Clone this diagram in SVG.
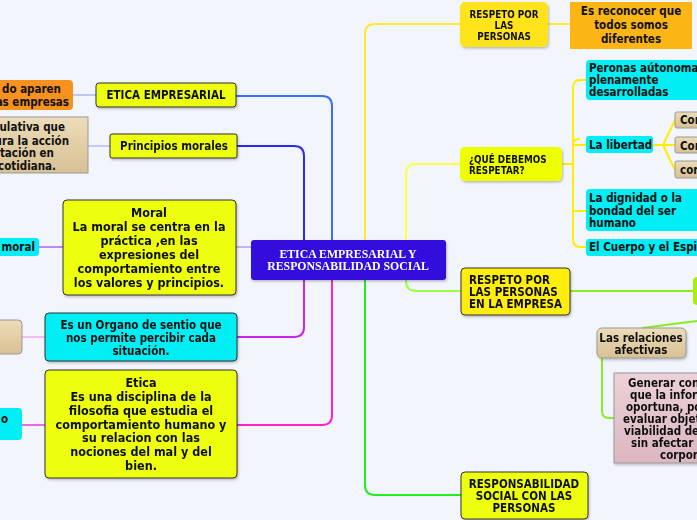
<svg xmlns="http://www.w3.org/2000/svg" width="697" height="520" viewBox="0 0 697 520">
<defs>
<style>
.t{font-family:"DejaVu Sans Condensed","DejaVu Sans",Verdana,sans-serif;font-stretch:condensed;font-weight:bold;fill:#111;font-size:11.5px}
.c{text-anchor:middle}
.e{text-anchor:end}
.s{font-size:9.8px}
.L{font-size:12.5px}
.b{stroke:#333;stroke-width:1}
.cy{fill:#00eef4}
.yl{fill:#eeff11}
.tan{fill:url(#tanG);stroke:#999;stroke-width:1}
.cn{fill:none;stroke-linecap:round}
</style>
<linearGradient id="tanG" x1="0" y1="0" x2="0" y2="1"><stop offset="0" stop-color="#ecdcb8"/><stop offset="1" stop-color="#d8c094"/></linearGradient>
<linearGradient id="pinkG" x1="0" y1="0" x2="0" y2="1"><stop offset="0" stop-color="#ecd2d8"/><stop offset="1" stop-color="#dcb6c0"/></linearGradient>
<filter id="sh" x="-10%" y="-10%" width="130%" height="140%"><feDropShadow dx="1" dy="1.5" stdDeviation="1" flood-color="#000" flood-opacity="0.25"/></filter>
</defs>
<rect width="697" height="520" fill="#f3f5fc"/>
<g id="connectors">
<line x1="73" y1="95" x2="96" y2="95" stroke="#a8b8f8" stroke-width="1.5"/>
<line x1="88" y1="146" x2="110" y2="146" stroke="#b8b8ff" stroke-width="1.5"/>
<line x1="39" y1="247" x2="63" y2="247" stroke="#bb88ff" stroke-width="2"/>
<line x1="22" y1="337" x2="45" y2="337" stroke="#f0a8f0" stroke-width="1.5"/>
<line x1="22" y1="425" x2="45" y2="425" stroke="#ee66ee" stroke-width="2"/>
<path class="cn" d="M236 96 H322 Q332 96 332 106 V240" stroke="#3b6bff" stroke-width="2"/>
<path class="cn" d="M237 146 H294 Q304 146 304 156 V240" stroke="#2a2aee" stroke-width="2"/>
<line x1="236" y1="247" x2="251" y2="247" stroke="#c8b0ff" stroke-width="2"/>
<path class="cn" d="M304 280 V327 Q304 337 294 337 H237" stroke="#cc22ee" stroke-width="2"/>
<path class="cn" d="M332 280 V415 Q332 425 322 425 H237" stroke="#ff22cc" stroke-width="2"/>
<path class="cn" d="M365 240 V34 Q365 24 375 24 H460" stroke="#ffe833" stroke-width="2"/>
<path class="cn" d="M365 280 V485 Q365 495 375 495 H461" stroke="#22ee22" stroke-width="2"/>
<path class="cn" d="M406 240 V174 Q406 164 416 164 H460" stroke="#ffff44" stroke-width="2"/>
<path class="cn" d="M406 280 V281 Q406 291 416 291 H460" stroke="#99ff44" stroke-width="2"/>
<line x1="548" y1="24" x2="570" y2="24" stroke="#ffe833" stroke-width="2"/>
<path class="cn" d="M562 164 H573 M586 80 H580 Q573 80 573 88 V239 Q573 247 580 247 H586 M573 145 Q573 139 579 139 M573 145 H586 M573 211 H586" stroke="#ffee00" stroke-width="2"/>
<path class="cn" d="M653 145 H663 L675 120 M663 145 H675 M663 145 L675 170" stroke="#ffee00" stroke-width="2"/>
<line x1="570" y1="291" x2="693" y2="291" stroke="#88ee22" stroke-width="2"/>
<line x1="642" y1="328" x2="697" y2="321" stroke="#88ee22" stroke-width="2"/>
<path class="cn" d="M602 358 V411 Q602 418 609 418 H614" stroke="#88ee22" stroke-width="2"/>
</g>
<g id="center" filter="url(#sh)">
<rect x="251" y="240" width="195" height="40" rx="3" fill="#3010dc"/>
<text x="348" y="258" font-family="Liberation Serif,serif" font-weight="bold" font-size="11.8" fill="#fff" text-anchor="middle">ETICA EMPRESARIAL Y</text>
<text x="348" y="270" font-family="Liberation Serif,serif" font-weight="bold" font-size="11.8" fill="#fff" text-anchor="middle">RESPONSABILIDAD SOCIAL</text>
</g>
<g id="n-orange"><rect x="-6" y="80" width="79" height="30" rx="4" fill="#f7921e"/>
<text class="t e" x="61" y="93">do aparen</text><text class="t e" x="69" y="106">as empresas</text></g>
<g id="n-etica-emp" filter="url(#sh)"><rect class="yl b" x="96" y="83" width="140" height="24" rx="3"/>
<text class="t c" x="166" y="99">ETICA EMPRESARIAL</text></g>
<g id="n-tan1"><rect class="tan" x="-6" y="117" width="94" height="56"/>
<text class="t e" x="65" y="131">ulativa que</text><text class="t e" x="69" y="145">ura la acción</text><text class="t e" x="54" y="157">tación en</text><text class="t e" x="56" y="170">cotidiana.</text></g>
<g id="n-principios" filter="url(#sh)"><rect class="yl b" x="110" y="134" width="127" height="24" rx="2"/>
<text class="t c" x="174" y="150">Principios morales</text></g>
<g id="n-moral-s"><rect class="cy" x="-6" y="238" width="45" height="18" rx="3"/>
<text class="t e" x="35" y="251">moral</text></g>
<g id="n-moral" filter="url(#sh)"><rect class="yl b" x="63" y="200" width="173" height="95" rx="4"/>
<text class="t c L" x="149" y="217">Moral</text><text class="t c L" x="149" y="231">La moral se centra en la</text><text class="t c L" x="149" y="245">práctica ,en las</text><text class="t c L" x="149" y="259">expresiones del</text><text class="t c L" x="149" y="273">comportamiento entre</text><text class="t c L" x="149" y="287">los valores y principios.</text></g>
<g id="n-tan2"><rect class="tan" x="-6" y="320" width="28" height="34" rx="4"/></g>
<g id="n-organo" filter="url(#sh)"><rect class="cy b" x="45" y="313" width="192" height="48" rx="4"/>
<text class="t c" x="141" y="329">Es un Organo de sentio que</text><text class="t c" x="141" y="342">nos permite percibir cada</text><text class="t c" x="141" y="355">situación.</text></g>
<g id="n-o"><rect class="cy" x="-6" y="408" width="28" height="32" rx="4"/>
<text class="t" x="1" y="423">o</text></g>
<g id="n-etica" filter="url(#sh)"><rect class="yl b" x="45" y="370" width="192" height="108" rx="4"/>
<text class="t c L" x="141" y="387">Etica</text><text class="t c L" x="141" y="401">Es una disciplina de la</text><text class="t c L" x="141" y="415">filosofia que estudia el</text><text class="t c L" x="141" y="429">comportamiento humano y</text><text class="t c L" x="141" y="442">su relacion con las</text><text class="t c L" x="141" y="456">nociones del mal y del</text><text class="t c L" x="141" y="470">bien.</text></g>
<g id="n-respeto" filter="url(#sh)"><rect x="460" y="2" width="88" height="45" rx="5" fill="#ffe41a"/>
<text class="t c s" x="504" y="18">RESPETO POR</text><text class="t c s" x="504" y="29">LAS</text><text class="t c s" x="504" y="40">PERSONAS</text></g>
<g id="n-reconocer"><rect x="570" y="2" width="122" height="47" fill="#fbb616"/>
<text class="t c" x="631" y="15" font-size="13">Es reconocer que</text><text class="t c" x="631" y="29" font-size="13">todos somos</text><text class="t c" x="631" y="43" font-size="13">diferentes</text></g>
<g id="n-que" filter="url(#sh)"><rect x="460" y="147" width="102" height="34" rx="5" fill="#eeff00"/>
<text class="t s" x="469" y="163">¿QUÉ DEBEMOS</text><text class="t s" x="469" y="174">RESPETAR?</text></g>
<g id="n-peronas"><rect class="cy" x="586" y="60" width="120" height="40" rx="4"/>
<text class="t" x="589" y="72">Peronas aútonomas</text><text class="t" x="589" y="84">plenamente</text><text class="t" x="589" y="96">desarrolladas</text></g>
<g id="n-libertad"><rect class="cy" x="586" y="136" width="67" height="17" rx="3"/>
<text class="t" x="589" y="149">La libertad</text></g>
<g id="n-con1"><rect class="tan" x="675" y="112" width="30" height="16" rx="2"/><text class="t" x="680" y="124" font-size="8.5">Con</text></g>
<g id="n-con2"><rect class="tan" x="675" y="137" width="30" height="16" rx="2"/><text class="t" x="680" y="150" font-size="11">Cor</text></g>
<g id="n-con3"><rect class="tan" x="675" y="161" width="30" height="17" rx="2"/><text class="t" x="680" y="174" font-size="8.5">com</text></g>
<g id="n-dignidad"><rect class="cy" x="586" y="189" width="120" height="42" rx="4"/>
<text class="t" x="589" y="202">La dignidad o la</text><text class="t" x="589" y="215">bondad del ser</text><text class="t" x="589" y="227">humano</text></g>
<g id="n-cuerpo"><rect class="cy" x="586" y="239" width="120" height="17" rx="3"/>
<text class="t" x="589" y="251">El Cuerpo y el Espir</text></g>
<g id="n-empresa" filter="url(#sh)"><rect class="b" x="461" y="268" width="109" height="47" rx="4" fill="#ffee11"/>
<text class="t" x="469" y="284">RESPETO POR</text><text class="t" x="469" y="296">LAS PERSONAS</text><text class="t" x="469" y="308">EN LA EMPRESA</text></g>
<g id="n-green"><rect x="693" y="277" width="20" height="28" rx="4" fill="#aaee11"/></g>
<g id="n-relaciones" filter="url(#sh)"><rect class="tan" x="597" y="328" width="89" height="30" rx="5"/>
<text class="t c" x="641" y="342">Las relaciones</text><text class="t c" x="641" y="354">afectivas</text></g>
<g id="n-generar" filter="url(#sh)"><rect x="614" y="373" width="100" height="90" fill="url(#pinkG)" stroke="#999"/>
<text class="t" x="628" y="387">Generar conf</text><text class="t" x="630" y="399">que la inform</text><text class="t" x="626" y="411">oportuna, po</text><text class="t" x="623" y="423">evaluar objet</text><text class="t" x="624" y="435">viabilidad de</text><text class="t" x="631" y="447">sin afectar l</text><text class="t" x="660" y="459">corpor</text></g>
<g id="n-resp-social" filter="url(#sh)"><rect class="yl b" x="461" y="472" width="127" height="47" rx="4"/>
<text class="t c" x="524" y="488">RESPONSABILIDAD</text><text class="t c" x="524" y="500">SOCIAL CON LAS</text><text class="t c" x="524" y="512">PERSONAS</text></g>
</svg>
